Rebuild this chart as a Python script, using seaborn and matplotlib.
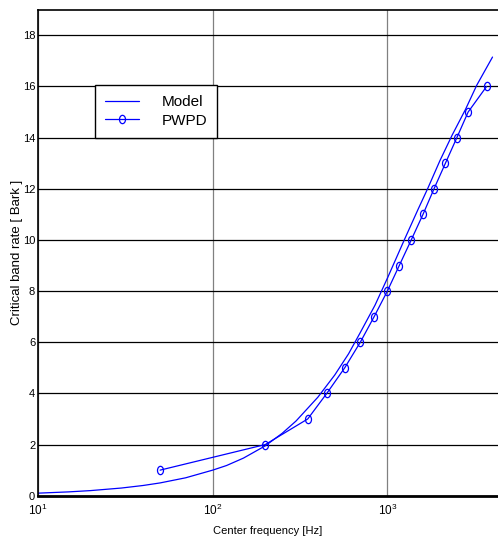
import matplotlib
matplotlib.use("Agg")
import matplotlib.pyplot as plt
import numpy as np
import pandas as pd
import seaborn as sns
from matplotlib.path import Path
from matplotlib.transforms import Affine2D
from matplotlib.ticker import FixedLocator, FuncFormatter, NullLocator

# model curve
model_freq = [10, 15, 20, 30, 40, 50, 70, 100, 120, 150, 200, 250, 300, 400,
              500, 600, 700, 850, 1000, 1250, 1500, 1700, 2000, 2350, 2800,
              3250, 4000]
model_bark = [0.1, 0.15, 0.2, 0.3, 0.4, 0.5, 0.7, 1.0, 1.18, 1.47, 1.95, 2.44,
              2.92, 3.85, 4.72, 5.55, 6.38, 7.45, 8.5, 10.0, 11.2, 12.0, 13.1,
              14.1, 15.1, 16.05, 17.15]

# PWPD band centres
pwpd_freq = [50, 200, 350, 450, 570, 700, 840, 1000, 1170, 1370,
             1600, 1850, 2150, 2500, 2900, 3700]
pwpd_bark = [1, 2, 3, 4, 5, 6, 7, 8, 9, 10, 11, 12, 13, 14, 15, 16]

sns.set_style("white")
plt.rcParams['font.family'] = ['Liberation Sans Narrow', 'Liberation Sans', 'DejaVu Sans']
plt.rcParams['mathtext.fontset'] = 'custom'
plt.rcParams['mathtext.rm'] = 'Liberation Sans'
plt.rcParams['mathtext.it'] = 'Liberation Sans'
for k in ['text.color', 'axes.labelcolor', 'xtick.color', 'ytick.color']:
    plt.rcParams[k] = 'black'

fig = plt.figure(figsize=(4.98, 5.38), dpi=100)
ax = fig.add_axes([0.0763, 0.0786, 0.9237, 0.9033])

blue = '#0000ff'
ellipse = Path.unit_circle().transformed(Affine2D().scale(0.72, 1.0))

df_model = pd.DataFrame({'freq': model_freq, 'bark': model_bark})
df_pwpd = pd.DataFrame({'freq': pwpd_freq, 'bark': pwpd_bark})

sns.lineplot(data=df_model, x='freq', y='bark', ax=ax, color=blue, lw=0.9,
             estimator=None, sort=False, label='Model')
sns.lineplot(data=df_pwpd, x='freq', y='bark', ax=ax, color=blue, lw=0.9,
             estimator=None, sort=False, marker=ellipse, markersize=6,
             markerfacecolor='none', markeredgecolor=blue, markeredgewidth=0.9,
             label='PWPD')

ax.set_xscale('log')
ax.set_xlim(10, 4300)
ax.set_ylim(0, 19)
ax.xaxis.set_major_locator(FixedLocator([10, 100, 1000]))
ax.xaxis.set_minor_locator(NullLocator())
ax.xaxis.set_major_formatter(FuncFormatter(
    lambda v, p: r'$\mathregular{10^{%d}}$' % int(round(np.log10(v)))))
ax.set_yticks(np.arange(0, 19, 2))

ax.grid(axis='y', color='black', lw=0.9)
ax.grid(axis='x', color='#808080', lw=0.9)
ax.set_axisbelow(True)

ax.spines['right'].set_visible(False)
ax.spines['top'].set_linewidth(1.2)
ax.spines['left'].set_linewidth(1.2)
ax.spines['bottom'].set_linewidth(2.0)
for s in ['top', 'left', 'bottom']:
    ax.spines[s].set_color('black')

ax.tick_params(axis='y', direction='in', length=0, pad=2, labelsize=8)
ax.tick_params(axis='x', direction='in', length=0, pad=5, labelsize=8.5)

ax.set_xlabel('Center frequency [Hz]', fontsize=8, labelpad=6)
ax.set_ylabel('Critical band rate [ Bark ]', fontsize=9.5, labelpad=0)

leg = ax.legend(loc='upper left', bbox_to_anchor=(0.124, 0.845),
                borderaxespad=0, fancybox=False, framealpha=1,
                edgecolor='black', handlelength=2.2, handletextpad=1.5,
                labelspacing=0.3, borderpad=0.65, prop={'size': 11})
leg.get_frame().set_linewidth(1.0)

fig.savefig('out.png', dpi=100)
